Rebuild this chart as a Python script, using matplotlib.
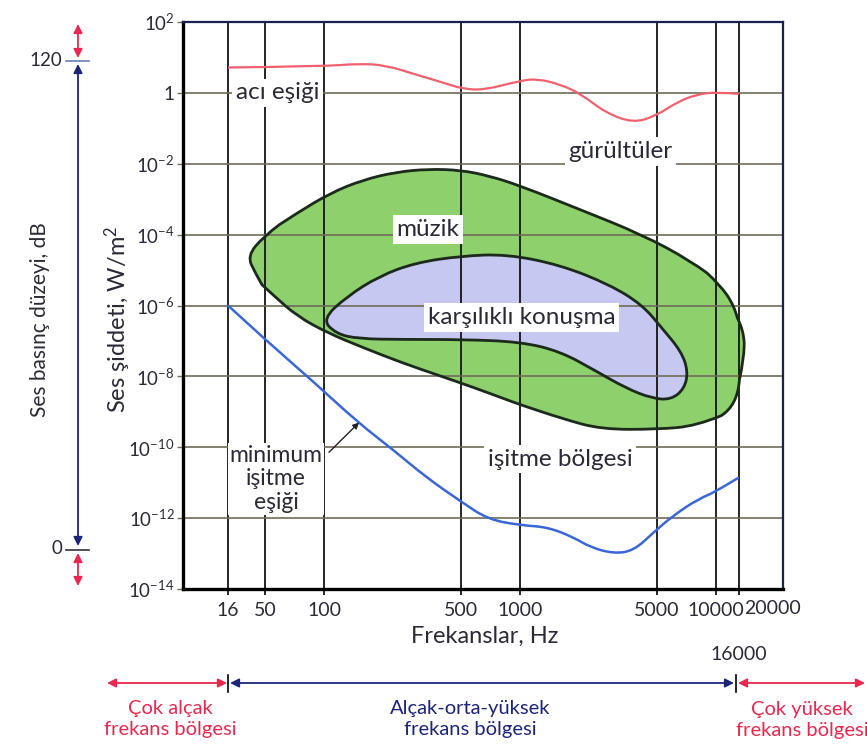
import numpy as np
import matplotlib.pyplot as plt
from matplotlib.path import Path
from matplotlib.patches import PathPatch
from matplotlib.ticker import NullLocator

plt.rcParams['font.family'] = ['Lato', 'DejaVu Sans']
plt.rcParams['mathtext.fontset'] = 'custom'
plt.rcParams['mathtext.rm'] = 'Lato'
plt.rcParams['mathtext.it'] = 'Lato:italic'

# axis ticks
freq_ticks = [16, 50, 100, 500, 1000, 5000, 10000, 16000]
freq_labels = ['16', '50', '100', '500', '1000', '5000', '10000', '']
intensity_ticks = [1e-14, 1e-12, 1e-10, 1e-8, 1e-6, 1e-4, 1e-2, 1, 1e2]
intensity_labels = [r'$\mathregular{10^{-14}}$', r'$\mathregular{10^{-12}}$',
                    r'$\mathregular{10^{-10}}$', r'$\mathregular{10^{-8}}$',
                    r'$\mathregular{10^{-6}}$', r'$\mathregular{10^{-4}}$',
                    r'$\mathregular{10^{-2}}$', '1', r'$\mathregular{10^{2}}$']

# acı eşiği (pain threshold), W/m2
pain_hz = [16, 100, 152, 207, 302, 411, 505, 650, 1000, 1230, 1620, 2040,
           2750, 3780, 4900, 6450, 8000, 10000, 16000]
pain_w = [5.2, 5.6, 6.7, 6.0, 3.15, 1.9, 1.32, 1.19, 2.2, 2.5, 1.7, 0.94,
          0.27, 0.143, 0.22, 0.58, 0.9, 1.06, 0.94]

# minimum işitme eşiği (hearing threshold), W/m2
threshold_hz = [16, 50, 88, 149, 224, 333, 497, 684, 1000, 1380, 1870, 2290,
                3000, 3800, 4840, 5920, 8100, 10800, 16000]
threshold_w = [1.0e-6, 1.1e-7, 7.2e-9, 5.0e-10, 8.7e-11, 1.4e-11, 3.0e-12,
               9.3e-13, 6.3e-13, 5.6e-13, 2.9e-13, 1.5e-13, 1.0e-13, 1.2e-13,
               4.1e-13, 1.07e-12, 3.5e-12, 6.6e-12, 1.4e-11]

# müzik region outline
music_hz = [29, 48, 73, 108, 158, 232, 341, 500, 700, 1000, 1940, 4200, 7450,
            10800, 14500, 16500, 16600, 15500, 7950, 5000, 2600, 1660,
            1000, 855, 584, 398, 251, 158, 104, 73, 56, 37]
music_w = [2.5e-5, 8.9e-5, 4.1e-4, 1.5e-3, 3.5e-3, 5.8e-3, 7.1e-3, 6.6e-3,
           4.5e-3, 2.4e-3, 5.6e-4, 1.0e-4, 1.8e-5, 3.9e-6, 1.0e-6, 2.0e-7,
           4.0e-8, 1.5e-9, 4.0e-10, 3.2e-10, 3.2e-10, 6.3e-10, 1.6e-9,
           2.2e-9, 4.8e-9, 1.0e-8, 2.4e-8, 6.5e-8, 1.7e-7, 5.0e-7, 1.8e-6,
           8.3e-6]

# karşılıklı konuşma region outline
speech_hz = [98, 131, 192, 292, 500, 855, 1600, 2860, 4200, 5300, 6640, 7200,
             6900, 5900, 4700, 3460, 2450, 1600, 1000, 500, 250, 150, 115]
speech_w = [4.1e-7, 1.8e-6, 6.8e-6, 1.6e-5, 2.5e-5, 2.8e-5, 1.4e-5, 3.9e-6,
            1.05e-6, 2.3e-7, 5.1e-8, 1.4e-8, 4.5e-9, 2.2e-9, 2.4e-9, 4.7e-9,
            1.4e-8, 5.1e-8, 9.5e-8, 1.1e-7, 1.1e-7, 1.15e-7, 1.6e-7]

TEXT = '#2a2a35'
RED = '#e8284e'
NAVY = '#1c2478'

# stretched frequency axis: log-like, with the 16-50 Hz span squeezed
scale_hz = np.array([4, 16, 50, 100, 1000, 10000, 16000, 20000, 25000])
scale_pos = np.array([0, 45, 82, 141, 337, 533, 556, 590, 600])


def fwd(f):
    f = np.clip(np.asarray(f, float), 1e-3, None)
    return np.interp(np.log10(f), np.log10(scale_hz), scale_pos)


def inv(p):
    return 10 ** np.interp(p, scale_pos, np.log10(scale_hz))


def smooth_path(xs, ys, closed=False):
    # quadratic B-spline through geometric midpoints (axes are logarithmic)
    x = np.asarray(xs, float)
    y = np.asarray(ys, float)
    if closed:
        mx, my = np.sqrt(x * np.roll(x, -1)), np.sqrt(y * np.roll(y, -1))
        verts = [(mx[-1], my[-1])]
        codes = [Path.MOVETO]
        for i in range(len(x)):
            verts += [(x[i], y[i]), (mx[i], my[i])]
            codes += [Path.CURVE3, Path.CURVE3]
        verts.append((mx[-1], my[-1]))
        codes.append(Path.CLOSEPOLY)
    else:
        verts = [(x[0], y[0])]
        codes = [Path.MOVETO]
        n = len(x)
        for i in range(1, n - 1):
            end = (x[i + 1], y[i + 1]) if i == n - 2 else \
                (np.sqrt(x[i] * x[i + 1]), np.sqrt(y[i] * y[i + 1]))
            verts += [(x[i], y[i]), end]
            codes += [Path.CURVE3, Path.CURVE3]
    return Path(verts, codes)


fig = plt.figure(figsize=(8.67, 7.49), dpi=100)
ax = fig.add_axes([183 / 867, 1 - 589 / 749, 600 / 867, 567 / 749])
ax.set_xscale('function', functions=(fwd, inv))
ax.set_yscale('log')
ax.set_xlim(4, 25000)
ax.set_ylim(1e-14, 1e2)

# regions
for hz, w, fc in [(music_hz, music_w, '#8dd06c'), (speech_hz, speech_w, '#c6c8f2')]:
    ax.add_patch(PathPatch(smooth_path(hz, w, closed=True), facecolor=fc,
                           edgecolor='none', zorder=1))
    ax.add_patch(PathPatch(smooth_path(hz, w, closed=True), facecolor='none',
                           edgecolor='#1b2a1b', lw=2.0, zorder=2))

ax.add_patch(PathPatch(smooth_path(pain_hz, pain_w), facecolor='none',
                       edgecolor='#f0606e', lw=1.6, zorder=2))
ax.add_patch(PathPatch(smooth_path(threshold_hz, threshold_w), facecolor='none',
                       edgecolor='#3a66d6', lw=1.8, zorder=2))

# ticks and grid
ax.set_xticks(freq_ticks, freq_labels)
ax.set_xticks([20000], ['20000'], minor=True)
ax.set_yticks(intensity_ticks, intensity_labels)
ax.yaxis.set_minor_locator(NullLocator())
ax.tick_params(axis='x', which='major', direction='out', length=4, width=1.2,
               color='black', pad=5, labelsize=14, labelcolor=TEXT)
ax.tick_params(axis='x', which='minor', length=0, pad=8, labelsize=14,
               labelcolor=TEXT)
ax.tick_params(axis='y', direction='out', length=4, width=1.0, color='#6f6c58',
               pad=2, labelsize=13.5, labelcolor=TEXT)
ax.set_axisbelow('line')
ax.xaxis.grid(True, which='major', color='#141414', lw=1.3)
ax.yaxis.grid(True, color='#6f6c58', lw=1.2)

for side in ['left', 'bottom']:
    ax.spines[side].set_linewidth(2.4)
    ax.spines[side].set_color('black')
for side in ['top', 'right']:
    ax.spines[side].set_linewidth(1.6)
    ax.spines[side].set_color('#1a2050')

ax.text(16000, -0.116, '16000', transform=ax.get_xaxis_transform(),
        ha='center', va='center', fontsize=14, color=TEXT)

# labels inside the chart
box = dict(facecolor='white', edgecolor='none', boxstyle='square,pad=0.15')
kw = dict(ha='center', va='center', fontsize=17.5, color=TEXT, zorder=4)
ax.text(58, 1.0, 'acı eşiği', bbox=box, **kw)
ax.text(3250, 0.022, 'gürültüler', bbox=box, **kw)
ax.text(338, 1.4e-4, 'müzik', bbox=box, **kw)
ax.text(1020, 4.6e-7, 'karşılıklı konuşma', bbox=box, **kw)
ax.text(1600, 4.6e-11, 'işitme bölgesi', bbox=box, **kw)
kw['fontsize'] = 16.5
ax.text(57, 1.3e-11, 'minimum\nişitme\neşiği', linespacing=1.15,
        bbox=dict(facecolor='white', edgecolor='none', boxstyle='square,pad=0.08'),
        **kw)
ax.annotate('', xy=(151, 5.0e-10), xytext=(106, 7.2e-11),
            arrowprops=dict(arrowstyle='-|>', color='#222222', lw=1.0,
                            mutation_scale=9, shrinkA=0, shrinkB=0), zorder=4)

fig.text(118 / 867, 1 - 319 / 749, r'Ses şiddeti, W/m$^{\mathregular{2}}$',
         rotation=90, ha='center', va='center', fontsize=17, color=TEXT)
fig.text(485 / 867, 1 - 636 / 749, 'Frekanslar, Hz', ha='center', va='center',
         fontsize=17, color=TEXT)

# sound pressure level scale on the left
fig.text(40 / 867, 1 - 320 / 749, 'Ses basınç düzeyi, dB', rotation=90,
         ha='center', va='center', fontsize=15, color=TEXT)


def arrow(x0, y0, x1, y1, color, style='<|-|>'):
    fig.add_artist(plt.Annotation(
        '', xy=(x1, 749 - y1), xytext=(x0, 749 - y0), xycoords='figure pixels',
        textcoords='figure pixels',
        arrowprops=dict(arrowstyle=style, color=color, lw=1.3, mutation_scale=13,
                        shrinkA=0, shrinkB=0)))


def tick(x0, y0, x1, y1, color):
    fig.add_artist(plt.Line2D([x0 / 867, x1 / 867], [1 - y0 / 749, 1 - y1 / 749],
                              color=color, lw=1.2, transform=fig.transFigure))


arrow(78, 64, 78, 546, NAVY)
arrow(78, 58, 78, 24, RED)
arrow(78, 553, 78, 586, RED)
tick(66, 61, 89, 61, '#6a80b0')
tick(66, 550, 89, 550, '#303040')
fig.text(62 / 867, 1 - 61 / 749, '120', ha='right', va='center', fontsize=13.5,
         color=TEXT)
fig.text(62 / 867, 1 - 549 / 749, '0', ha='right', va='center', fontsize=13.5,
         color=TEXT)

# frequency bands under the chart
arrow(107, 683, 227, 683, RED)
arrow(230, 683, 734, 683, NAVY)
arrow(738, 683, 865, 683, RED)
tick(228, 675, 228, 692, 'black')
tick(736, 675, 736, 692, 'black')
band_kw = dict(ha='center', va='center', fontsize=14.5, linespacing=1.35)
fig.text(170 / 867, 1 - 719 / 749, 'Çok alçak\nfrekans bölgesi', color=RED,
         **band_kw)
fig.text(470 / 867, 1 - 719 / 749, 'Alçak-orta-yüksek\nfrekans bölgesi',
         color=NAVY, **band_kw)
fig.text(802 / 867, 1 - 720 / 749, 'Çok yüksek\nfrekans bölgesi', color=RED,
         **band_kw)

fig.savefig('out.png', dpi=100)
